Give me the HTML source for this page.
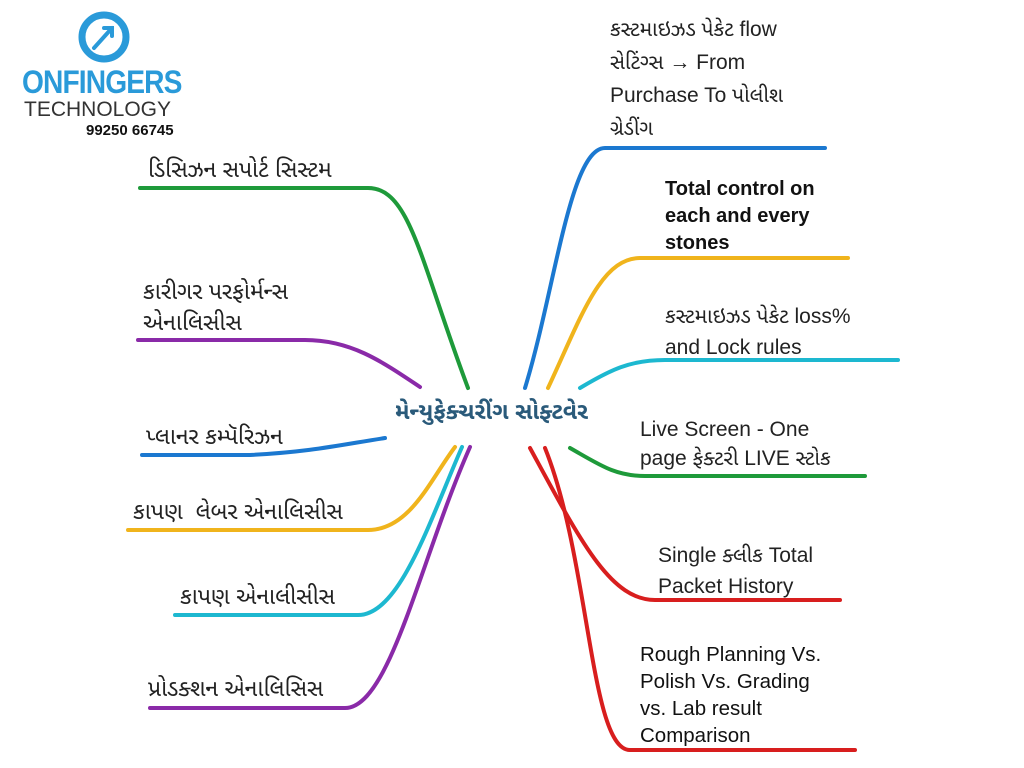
<!DOCTYPE html>
<html><head><meta charset="utf-8"><style>
body{margin:0;width:1024px;height:768px;background:#fff;overflow:hidden;position:relative;font-family:"Liberation Sans","Noto Sans Gujarati",sans-serif;}
.t{position:absolute;font-size:21px;color:#222;line-height:27px;white-space:nowrap}
.g{font-size:23px}
</style></head><body>
<svg width="1024" height="768" style="position:absolute;left:0;top:0" fill="none" stroke-width="4" stroke-linecap="round">
<circle cx="104" cy="37" r="22" stroke="#2a9ad9" stroke-width="7"/>
<path d="M94 48 L112 28 M104 28 L112 28 L112 36" stroke="#2a9ad9" stroke-width="4"/>
<path d="M140 188 H368 C410 188 420 260 468 388" stroke="#1e9a3a"/>
<path d="M138 340 H305 C350 340 380 360 420 387" stroke="#8a2aa8"/>
<path d="M142 455 H250 C310 452 340 445 385 438" stroke="#1b78d0"/>
<path d="M128 530 H368 C410 530 430 480 455 447" stroke="#f0b41c"/>
<path d="M175 615 H358 C400 615 430 520 462 447" stroke="#1db8d0"/>
<path d="M150 708 H345 C390 708 420 560 470 447" stroke="#8a2aa8"/>
<path d="M525 388 C555 290 570 148 605 148 H825" stroke="#1b78d0"/>
<path d="M548 388 C580 320 600 258 640 258 H848" stroke="#f0b41c"/>
<path d="M580 388 C610 370 630 360 665 360 H898" stroke="#1db8d0"/>
<path d="M570 448 C600 465 615 476 645 476 H865" stroke="#1e9a3a"/>
<path d="M530 448 C580 540 610 600 655 600 H840" stroke="#d81e1e"/>
<path d="M545 448 C590 560 590 750 630 750 H855" stroke="#d81e1e"/>
</svg>
<div style="position:absolute;left:22px;top:64px;font-size:32px;font-weight:bold;color:#2a9ad9;letter-spacing:-1px;transform:scaleX(0.88);transform-origin:left">ONFINGERS</div>
<div style="position:absolute;left:24px;top:98px;font-size:21px;color:#333">TECHNOLOGY</div>
<div style="position:absolute;left:86px;top:122px;font-size:15px;font-weight:bold;color:#111">99250 66745</div>
<div class="t" style="left:395px;top:398px;font-size:23px;font-weight:bold;color:#2a5a7a">મેન્યુફેક્ચરીંગ સોફ્ટવેર</div>
<div class="t g" style="left:148px;top:156px">ડિસિઝન સપોર્ટ સિસ્ટમ</div>
<div class="t g" style="left:143px;top:276px;line-height:31px">કારીગર પરફોર્મન્સ<br>એનાલિસીસ</div>
<div class="t g" style="left:146px;top:423px">પ્લાનર કમ્પૅરિઝન</div>
<div class="t g" style="left:133px;top:498px">કાપણ &nbsp;લેબર એનાલિસીસ</div>
<div class="t g" style="left:180px;top:583px">કાપણ એનાલીસીસ</div>
<div class="t g" style="left:148px;top:675px">પ્રોડક્શન એનાલિસિસ</div>
<div class="t" style="left:610px;top:13px;line-height:33px">કસ્ટમાઇઝડ પેકેટ flow<br>સેટિંગ્સ → From<br>Purchase To પોલીશ<br>ગ્રેડીંગ</div>
<div class="t" style="left:665px;top:176px;font-size:20px;font-weight:bold;color:#111">Total control on<br>each and every<br>stones</div>
<div class="t" style="left:665px;top:301px;line-height:31px">કસ્ટમાઇઝડ પેકેટ loss%<br>and Lock rules</div>
<div class="t" style="left:640px;top:415px;line-height:29px">Live Screen - One<br>page ફેક્ટરી LIVE સ્ટોક</div>
<div class="t" style="left:658px;top:540px;line-height:31px">Single ક્લીક Total<br>Packet History</div>
<div class="t" style="left:640px;top:641px;font-size:20.5px;color:#111">Rough Planning Vs.<br>Polish Vs. Grading<br>vs. Lab result<br>Comparison</div>
</body></html>
